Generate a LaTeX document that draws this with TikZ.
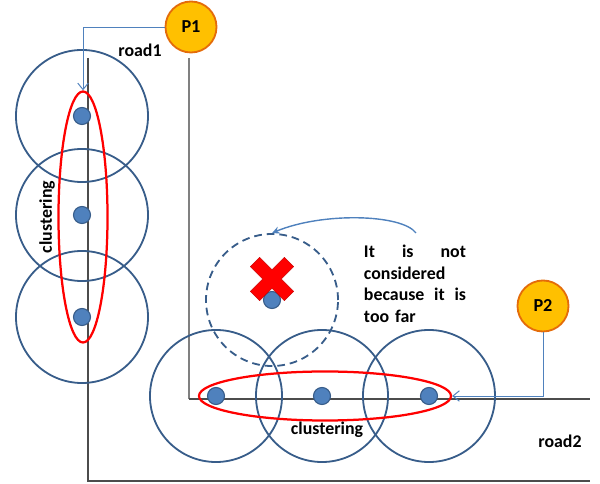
\documentclass[tikz,border=0pt]{standalone}
\usepackage{fontspec}
\setmainfont{Carlito}
\usetikzlibrary{shapes.geometric, arrows.meta}

\definecolor{ringblue}{HTML}{385D8A}
\definecolor{dotblue}{HTML}{4F81BD}
\definecolor{pfill}{HTML}{FFC000}
\definecolor{pdraw}{HTML}{E46C0A}

\begin{document}
\begin{tikzpicture}[
    x=0.025cm, y=-0.025cm,
    zone/.style={circle, draw=ringblue, line width=1.3pt, minimum size=3.3cm, inner sep=0pt},
    farzone/.style={zone, dashed, dash pattern=on 5.5pt off 3.5pt},
    car/.style={circle, draw=ringblue, line width=0.8pt, fill=dotblue, minimum size=0.425cm, inner sep=0pt},
    cluster/.style={ellipse, draw=red, line width=1.6pt, inner sep=0pt},
    point/.style={circle, draw=pdraw, line width=1.3pt, fill=pfill, minimum size=1.275cm,
        inner sep=0pt, font=\fontsize{13}{15}\selectfont\bfseries},
    lbl/.style={font=\fontsize{12.7}{15}\selectfont\bfseries},
    link/.style={draw=dotblue, line width=0.7pt, -{Straight Barb[length=1.6mm, width=2.6mm]}},
    road/.style={line width=0.8pt}
]

% --- Roads ---
\coordinate (outTop) at (88,58);
\coordinate (outCorner) at (88,481);
\coordinate (outEnd) at (590,481);
\coordinate (inTop) at (189,58);
\coordinate (inCorner) at (189,399);
\coordinate (inEnd) at (590,399);
\draw[road, black!70] (outTop) -- (outCorner) -- (outEnd);
\draw[road, gray] (inTop) -- (inCorner);
\draw[road, black!70] (inCorner) -- (inEnd);

% --- Road 1 (vertical) ---
\node[zone] (zoneA) at (82,116) {};
\node[zone] (zoneB) at (82,215) {};
\node[zone] (zoneC) at (82,317) {};
\node[cluster, minimum width=1.225cm, minimum height=6.275cm] (clu1) at (83,217) {};
\node[car] (carA) at (82,116) {};
\node[car] (carB) at (82,215) {};
\node[car] (carC) at (82,317) {};
\node[lbl, rotate=90] (cluText1) at (47,217) {clustering};
\node[lbl] (road1) at (140,50) {road1};

% --- Road 2 (horizontal) ---
\node[zone] (zoneD) at (216,396) {};
\node[zone] (zoneE) at (322,396) {};
\node[zone] (zoneF) at (429,396) {};
\node[cluster, minimum width=6.3cm, minimum height=1.225cm] (clu2) at (325,396) {};
\node[car] (carD) at (216,396) {};
\node[car] (carE) at (322,396) {};
\node[car] (carF) at (429,396) {};
\node[lbl] (cluText2) at (327,430) {clustering};
\node[lbl] (road2) at (560,441) {road2};

% --- Car too far ---
\node[farzone] (far) at (272,300) {};
\node[car] (carFar) at (272,300) {};
\begin{scope}[shift={(272,279)}, rotate=45]
  \fill[red, draw=red!80!black, line width=0.4pt] (-24,-6.5) -- (-6.5,-6.5) -- (-6.5,-24) -- (6.5,-24)
    -- (6.5,-6.5) -- (24,-6.5) -- (24,6.5) -- (6.5,6.5) -- (6.5,24) -- (-6.5,24) -- (-6.5,6.5)
    -- (-24,6.5) -- cycle;
\end{scope}
\node[lbl, text width=2.55cm, align=left, font=\fontsize{12.7}{15.3}\selectfont\bfseries] (note) at (415,284)
  {It\hfill is\hfill not\\considered\\because\hfill it\hfill is\\too far};
\coordinate (noteTail) at (416,233);
\draw[dotblue, line width=1pt, -{Stealth[length=1.9mm, width=1.8mm]}] (noteTail)
  .. controls (402,214) and (322,212) .. (far.north);

% --- Points P1 / P2 ---
\node[point] (p1) at (191,27) {P1};
\node[point] (p2) at (543,306) {P2};
\draw[link] (p1.west) -| (clu1.north);
\draw[link] (p2.south) |- (clu2.east);

\useasboundingbox (0,0) rectangle (600,484);
\end{tikzpicture}
\end{document}
